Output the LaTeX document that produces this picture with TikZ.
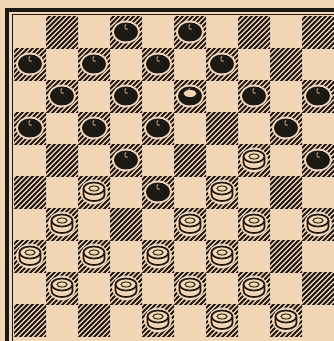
\documentclass[tikz,border=0pt]{standalone}
\definecolor{paper}{HTML}{F3D6B6}
\definecolor{ink}{HTML}{1C1814}
\begin{document}
\begin{tikzpicture}[x=1pt,y=-1pt,
  hatch/.style={line width=1.8pt, draw=ink},
  halo/.style={fill=paper},
  bpiece/.style={fill=ink},
  bmark/.style={draw=paper, line width=0.7pt},
  wpiece/.style={draw=ink, line width=1.7pt, fill=paper, line join=round},
  wring/.style={draw=ink, line width=0.9pt},
  frameline/.style={draw=ink, line width=3.5pt},
  innerline/.style={draw=ink, line width=0.8pt}]
\fill[paper] (0,0) rectangle (334,341);
\useasboundingbox (0,0) rectangle (334,341);
% hatched dark squares
\foreach \r in {0,...,9}{
  \foreach \c in {0,...,9}{
    \pgfmathtruncatemacro\odd{mod(\r+\c,2)}
    \ifnum\odd=1
      \begin{scope}
        \clip (14+32*\c,16+32*\r) rectangle ++(32,32);
        \foreach \k in {-35,-30,...,35}
          \draw[hatch] (14+32*\c+\k,16+32*\r+34) -- ++(36,-36);
      \end{scope}
    \fi
  }
}
% black pieces (col/row)
\foreach \c/\r in {3/0,5/0, 0/1,2/1,4/1,6/1, 1/2,3/2,5/2,7/2,9/2, 0/3,2/3,4/3,8/3, 3/4,9/4, 4/5}{
  \fill[halo] (30+32*\c,32+32*\r) ellipse [x radius=14, y radius=11.5];
  \fill[bpiece] (30+32*\c,32+32*\r) ellipse [x radius=12, y radius=9.5];
  \draw[bmark] (32+32*\c,29+32*\r) arc [start angle=60, end angle=250, x radius=2.2, y radius=2.5];
}
% light top on the piece in row 2, column 5
\fill[paper] (190,93.5) ellipse [x radius=6.5, y radius=3.5];
% white pieces
\foreach \c/\r in {7/4, 2/5,6/5, 1/6,5/6,7/6,9/6, 0/7,2/7,4/7,6/7, 1/8,3/8,5/8,7/8, 4/9,6/9,8/9}{
  \fill[halo] (30+32*\c,32+32*\r) ellipse [x radius=14, y radius=12.5];
  \draw[wpiece] (19.5+32*\c,28.5+32*\r) -- (19.5+32*\c,35+32*\r)
     arc [start angle=180, end angle=0, x radius=10.5, y radius=6]
     -- (40.5+32*\c,28.5+32*\r);
  \draw[wpiece] (30+32*\c,28.5+32*\r) ellipse [x radius=10.5, y radius=6];
  \draw[wring] (30+32*\c,28.5+32*\r) ellipse [x radius=5, y radius=2.6];
}
% frame
\draw[frameline] (7,341) -- (7,10) -- (334,10);
\draw[innerline] (12,341) -- (12,14) -- (334,14);
\end{tikzpicture}
\end{document}
